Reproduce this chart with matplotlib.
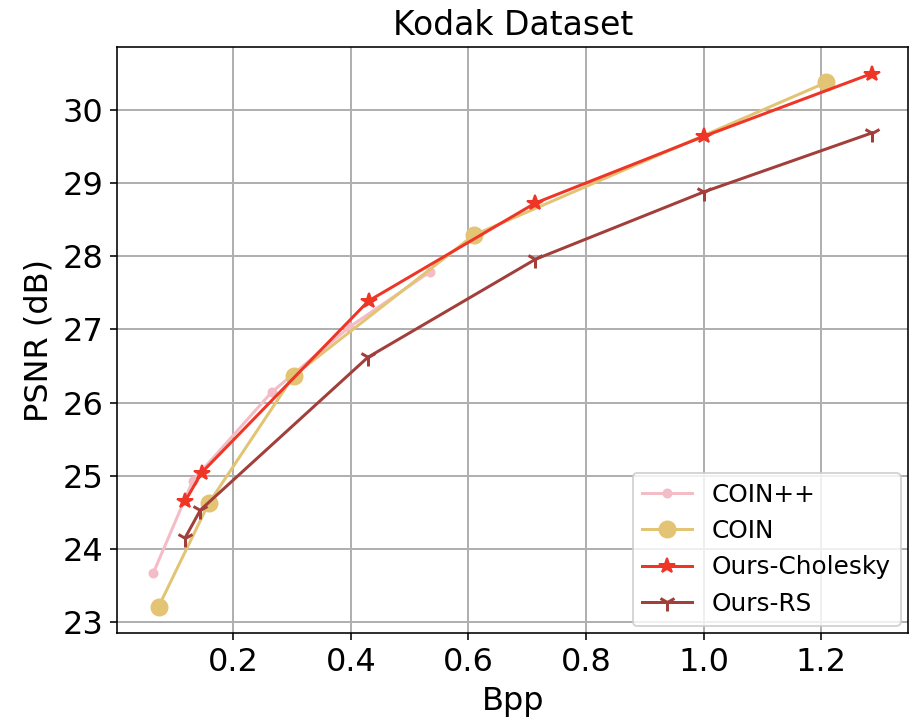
import matplotlib
matplotlib.use("Agg")
import matplotlib.pyplot as plt

# Data
coinpp_bpp = [0.064, 0.131, 0.265, 0.397, 0.535]
coinpp_psnr = [23.67, 24.93, 26.14, 27.03, 27.79]

coin_bpp = [0.073, 0.158, 0.303, 0.609, 1.209]
coin_psnr = [23.21, 24.62, 26.37, 28.29, 30.38]

chol_bpp = [0.118, 0.146, 0.430, 0.714, 1.000, 1.286]
chol_psnr = [24.65, 25.04, 27.39, 28.73, 29.64, 30.50]

rs_bpp = [0.118, 0.144, 0.429, 0.714, 1.000, 1.287]
rs_psnr = [24.15, 24.53, 26.62, 27.96, 28.88, 29.69]

plt.rcParams["font.size"] = 16

fig, ax = plt.subplots(figsize=(6.32, 5.014), dpi=144)

ax.plot(coinpp_bpp, coinpp_psnr, color="#f4bcc6", marker="o", markersize=4, label="COIN++")
ax.plot(coin_bpp, coin_psnr, color="#e3c474", marker="o", markersize=8, label="COIN")
ax.plot(chol_bpp, chol_psnr, color="#ee3526", marker="*", markersize=8, label="Ours-Cholesky")
ax.plot(rs_bpp, rs_psnr, color="#a23f3a", marker="1", markersize=9, markeredgewidth=1.5, label="Ours-RS")

ax.set_title("Kodak Dataset", fontsize=16.5)
ax.set_xlabel("Bpp")
ax.set_ylabel("PSNR (dB)")
ax.set_xticks([0.2, 0.4, 0.6, 0.8, 1.0, 1.2])
ax.set_yticks([23, 24, 25, 26, 27, 28, 29, 30])
ax.grid(True, linewidth=1.0)
ax.legend(loc="lower right", fontsize=12.4, borderaxespad=0.3)

fig.subplots_adjust(left=0.129, right=0.998, top=0.935, bottom=0.123)
fig.savefig("out.png", dpi=144)
